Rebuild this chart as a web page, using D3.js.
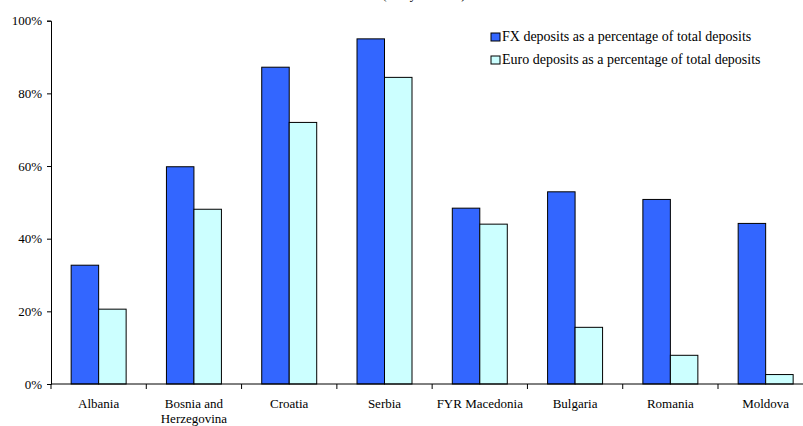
<!DOCTYPE html>
<html><head><meta charset="utf-8">
<script src="https://cdn.jsdelivr.net/npm/d3@7"></script>
<style>
html,body{margin:0;padding:0;background:#fff;}
svg{display:block;}
</style></head>
<body>
<svg id="chart" width="803" height="426"></svg>
<script>
const categories = ["Albania","Bosnia and Herzegovina","Croatia","Serbia","FYR Macedonia","Bulgaria","Romania","Moldova"];
const fxDeposits = [32.7, 59.8, 87.2, 95.0, 48.4, 52.9, 50.8, 44.2];
const euroDeposits = [20.6, 48.1, 72.0, 84.4, 44.0, 15.6, 7.9, 2.6];
const seriesNames = ["FX deposits as a percentage of total deposits","Euro deposits as a percentage of total deposits"];
const seriesColors = ["#3366FF","#CCFFFF"];
const yTicks = [0,20,40,60,80,100];

const FONT = "'Liberation Serif', 'Times New Roman', serif";
const svg = d3.select("#chart");
const mLeft = 51, mRight = 813.3, mTop = 20.7, mBottom = 384;

const x0 = d3.scaleBand().domain(categories).range([mLeft, mRight]).padding(0);
const x1 = d3.scaleBand().domain([0,1]).range([0, x0.bandwidth()]).paddingInner(0).paddingOuter(0.733);
const y = d3.scaleLinear().domain([0,100]).range([mBottom, mTop]);

// title (cut off at top, as in the source)
svg.append("text").attr("x", 424).attr("y", -1).attr("text-anchor","middle")
  .attr("font-family", FONT).attr("font-size", 13).attr("fill","#000").text("(end-year 2007)");

// bars
const data = categories.map((c,i)=>({c, v:[fxDeposits[i], euroDeposits[i]]}));
const g = svg.append("g");
data.forEach(d=>{
  d.v.forEach((v,j)=>{
    g.append("rect")
      .attr("x", x0(d.c) + x1(j))
      .attr("y", y(v))
      .attr("width", x1.bandwidth())
      .attr("height", y(0) - y(v))
      .attr("fill", seriesColors[j])
      .attr("stroke", "#000").attr("stroke-width", 1);
  });
});

// y axis
const yAxis = d3.axisLeft(y).tickValues(yTicks).tickSize(4).tickPadding(5).tickFormat(d=>d+"%");
const ya = svg.append("g").attr("transform",`translate(${mLeft},0)`).call(yAxis);
ya.attr("font-family", FONT).attr("font-size", 13);
ya.selectAll("text").attr("fill","#000");
ya.selectAll("line,path").attr("stroke","#000");

// x axis
svg.append("line").attr("x1",mLeft).attr("x2",mRight).attr("y1",mBottom).attr("y2",mBottom).attr("stroke","#000");
const bounds = categories.map(c=>x0(c)).concat([mRight]);
svg.append("g").selectAll("line").data(bounds).join("line")
  .attr("x1",d=>d).attr("x2",d=>d).attr("y1",mBottom).attr("y2",mBottom+5).attr("stroke","#000");

const labelLines = {"Bosnia and Herzegovina":["Bosnia and","Herzegovina"]};
const xl = svg.append("g").attr("font-family", FONT).attr("font-size", 13);
categories.forEach(c=>{
  const lines = labelLines[c] || [c];
  const t = xl.append("text").attr("x", x0(c)+x0.bandwidth()/2).attr("y", 408)
    .attr("text-anchor","middle").attr("fill","#000");
  lines.forEach((l,i)=>{
    t.append("tspan").attr("x", x0(c)+x0.bandwidth()/2).attr("dy", i===0?0:15).text(l);
  });
});

// legend
const lg = svg.append("g").attr("font-family", FONT).attr("font-size", 14);
seriesNames.forEach((s,i)=>{
  lg.append("rect").attr("x",491).attr("y",33+i*23).attr("width",9).attr("height",8)
    .attr("fill",seriesColors[i]).attr("stroke","#000").attr("stroke-width",1);
  lg.append("text").attr("x",502).attr("y",41+i*23).attr("fill","#000").text(s);
});
</script>
</body></html>
